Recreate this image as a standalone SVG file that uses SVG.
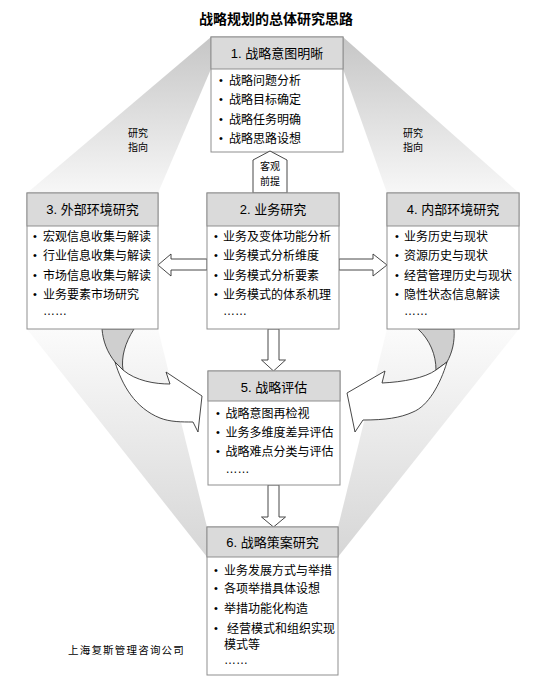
<svg xmlns="http://www.w3.org/2000/svg" width="543" height="686" viewBox="0 0 543 686">
<style>
.box{fill:#fff;stroke:#8f8f8f;stroke-width:1}
.hdr{fill:#dadada;stroke:#8f8f8f;stroke-width:1}
.ht{font-family:"Liberation Sans","Noto Sans CJK SC",sans-serif;font-size:13px;fill:#000;text-anchor:middle}
.it{font-family:"Liberation Sans","Noto Sans CJK SC",sans-serif;font-size:12px;fill:#000}
.bl{font-family:"Liberation Sans",sans-serif;font-size:11px;fill:#000}
.lab{font-family:"Noto Sans CJK SC",sans-serif;font-size:10px;fill:#000;text-anchor:middle}
.arr{fill:#fff;stroke:#333;stroke-width:0.9}
.tail{fill:#cfcfcf;stroke:#333;stroke-width:0.9}
</style>
<defs>
<linearGradient id="gUp" x1="0" y1="0" x2="0" y2="1">
<stop offset="0" stop-color="#c6c6c6"/>
<stop offset="1" stop-color="#f7f7f7"/>
</linearGradient>
<linearGradient id="gDn" x1="0" y1="0" x2="0" y2="1">
<stop offset="0" stop-color="#fbfbfb"/>
<stop offset="1" stop-color="#d6d6d6"/>
</linearGradient>
</defs>
<rect width="543" height="686" fill="#fff"/>
<text x="276" y="24" font-family="'Noto Sans CJK SC',sans-serif" font-size="14" font-weight="bold" text-anchor="middle">战略规划的总体研究思路</text>
<g id="funnels">
<polygon points="211,37 211,69 158,193 27,193" fill="url(#gUp)"/>
<polygon points="343,37 343,69 387,193 519,193" fill="url(#gUp)"/>
<polygon points="27,329 158,329 207,527 207,557" fill="url(#gDn)"/>
<polygon points="519,329 387,329 338,527 338,557" fill="url(#gDn)"/>
</g>
<g id="labels">
<text class="lab" x="138" y="136.5">研究</text>
<text class="lab" x="138" y="151">指向</text>
<text class="lab" x="413" y="136.5">研究</text>
<text class="lab" x="413" y="151">指向</text>
</g>
<g id="connectors">
<polygon class="arr" points="207,259 171,259 171,254 158,265 171,276 171,270 207,270"/>
<polygon class="arr" points="339,259 373,259 373,254 387,265 373,276 373,270 339,270"/>
<polygon class="arr" points="268,329 279,329 279,360 285.5,360 273.5,371 261.5,360 268,360"/>
<polygon class="arr" points="268,485 279,485 279,517 285.5,517 273.5,527 261.5,517 268,517"/>
<path class="tail" d="M102,329 L134,329 C125,343 121,357 123,370 L115,362 C107,352 103,341 102,329 Z"/>
<path class="arr" d="M115,362 C122,385 135,408 160,418 C170,422 182,422 193,422 L198,432 L202,396 L166,372 L170,384 C155,384 136,381 123,370 Z"/>
<path class="tail" d="M418,329 L454,329 C455,342 452,353 447,362 L436,370 C436,355 430,340 418,329 Z"/>
<path class="arr" d="M447,362 C440,385 428,406 413,412 C400,418 385,420 363,420 L355,432 L347,393 L385,371 L382,383 C403,382 425,378 436,370 Z"/>
</g>
<g id="node1">
<rect class="box" x="211" y="37" width="132" height="115"/>
<rect class="hdr" x="211" y="37" width="132" height="32"/>
<text class="ht" x="277" y="58">1. 战略意图明晰</text>
<text class="bl" x="219" y="84">•</text><text class="it" x="229" y="84.5">战略问题分析</text>
<text class="bl" x="219" y="103">•</text><text class="it" x="229" y="103.5">战略目标确定</text>
<text class="bl" x="219" y="123">•</text><text class="it" x="229" y="123.5">战略任务明确</text>
<text class="bl" x="219" y="142">•</text><text class="it" x="229" y="142.5">战略思路设想</text>
</g>
<g id="premise">
<polygon points="253,193 253,160 270,151 287,160 287,193" fill="#fff" stroke="#333" stroke-width="0.9"/>
<text class="lab" x="270" y="170">客观</text>
<text class="lab" x="270" y="185">前提</text>
</g>
<g id="node3">
<rect class="box" x="27" y="193" width="131" height="136"/>
<rect class="hdr" x="27" y="193" width="131" height="33"/>
<text class="ht" x="92.5" y="214">3. 外部环境研究</text>
<text class="bl" x="33" y="240">•</text><text class="it" x="43" y="241">宏观信息收集与解读</text>
<text class="bl" x="33" y="259">•</text><text class="it" x="43" y="260">行业信息收集与解读</text>
<text class="bl" x="33" y="279">•</text><text class="it" x="43" y="279.5">市场信息收集与解读</text>
<text class="bl" x="33" y="298">•</text><text class="it" x="43" y="299">业务要素市场研究</text>
<text class="it" x="43" y="315">……</text>
</g>
<g id="node2">
<rect class="box" x="207" y="193" width="132" height="136"/>
<rect class="hdr" x="207" y="193" width="132" height="33"/>
<text class="ht" x="273" y="214">2. 业务研究</text>
<text class="bl" x="214" y="240">•</text><text class="it" x="223" y="241">业务及变体功能分析</text>
<text class="bl" x="214" y="259">•</text><text class="it" x="223" y="260">业务模式分析维度</text>
<text class="bl" x="214" y="279">•</text><text class="it" x="223" y="279.5">业务模式分析要素</text>
<text class="bl" x="214" y="298">•</text><text class="it" x="223" y="299">业务模式的体系机理</text>
<text class="it" x="223" y="315">……</text>
</g>
<g id="node4">
<rect class="box" x="387" y="193" width="132" height="136"/>
<rect class="hdr" x="387" y="193" width="132" height="33"/>
<text class="ht" x="453" y="214">4. 内部环境研究</text>
<text class="bl" x="395" y="240">•</text><text class="it" x="404" y="241">业务历史与现状</text>
<text class="bl" x="395" y="259">•</text><text class="it" x="404" y="260">资源历史与现状</text>
<text class="bl" x="395" y="279">•</text><text class="it" x="404" y="279.5">经营管理历史与现状</text>
<text class="bl" x="395" y="298">•</text><text class="it" x="404" y="299">隐性状态信息解读</text>
<text class="it" x="404" y="315">……</text>
</g>
<g id="node5">
<rect class="box" x="208" y="371" width="132" height="114"/>
<rect class="hdr" x="208" y="371" width="132" height="30"/>
<text class="ht" x="274" y="391.5">5. 战略评估</text>
<text class="bl" x="216" y="417">•</text><text class="it" x="225.5" y="418">战略意图再检视</text>
<text class="bl" x="216" y="436">•</text><text class="it" x="225.5" y="437">业务多维度差异评估</text>
<text class="bl" x="216" y="455">•</text><text class="it" x="225.5" y="456">战略难点分类与评估</text>
<text class="it" x="225.5" y="473">……</text>
</g>
<g id="node6">
<rect class="box" x="207" y="527" width="131" height="148"/>
<rect class="hdr" x="207" y="527" width="131" height="30"/>
<text class="ht" x="272.5" y="547">6. 战略策案研究</text>
<text class="bl" x="214" y="574">•</text><text class="it" x="224" y="574.5">业务发展方式与举措</text>
<text class="bl" x="214" y="592">•</text><text class="it" x="224" y="593">各项举措具体设想</text>
<text class="bl" x="214" y="612">•</text><text class="it" x="224" y="613">举措功能化构造</text>
<text class="bl" x="214" y="632">•</text><text class="it" x="227" y="633">经营模式和组织实现</text>
<text class="it" x="224" y="649">模式等</text>
<text class="it" x="224" y="664">……</text>
</g>
<text x="68" y="654" font-family="'Noto Sans CJK SC',sans-serif" font-size="10.5" letter-spacing="1.2">上海复斯管理咨询公司</text>
</svg>
